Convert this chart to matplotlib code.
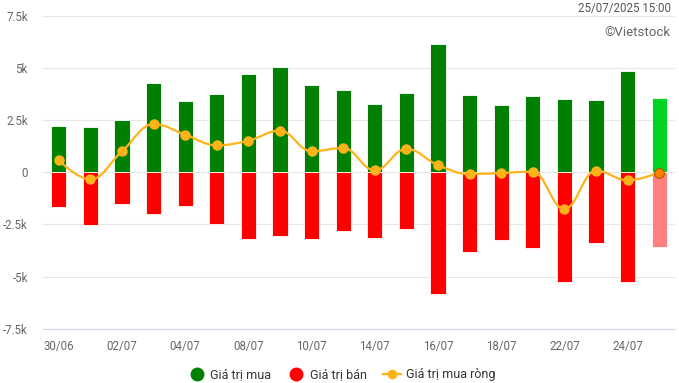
import matplotlib
matplotlib.use("Agg")
import matplotlib.pyplot as plt
import numpy as np
from matplotlib.path import Path
from matplotlib.patches import PathPatch
from matplotlib.lines import Line2D
from matplotlib.ticker import FuncFormatter

plt.rcParams['font.family'] = ['Roboto', 'DejaVu Sans']

# ngay giao dich
dates = ["30/06", "01/07", "02/07", "03/07", "04/07", "07/07", "08/07", "09/07",
         "10/07", "11/07", "14/07", "15/07", "16/07", "17/07", "18/07", "21/07",
         "22/07", "23/07", "24/07", "25/07"]
# gia tri (ty dong)
buy = [2230, 2180, 2510, 4290, 3430, 3760, 4720, 5060, 4190, 3970,
       3280, 3810, 6170, 3720, 3240, 3670, 3520, 3480, 4870, 3570]
sell = [-1650, -2520, -1510, -1990, -1610, -2470, -3190, -3050, -3190, -2810,
        -3140, -2730, -5840, -3820, -3240, -3620, -5260, -3380, -5260, -3580]
net = [580, -340, 1010, 2310, 1810, 1300, 1520, 2000, 1010, 1170,
       100, 1120, 350, -80, -30, 30, -1760, 80, -380, -10]

GREEN = "#008000"
RED = "#ff0000"
ORANGE = "#ffb31a"


def spline_path(xs, ys, smoothing=1.5):
    # duong cong kieu highcharts spline
    n = len(xs)
    verts = [(xs[0], ys[0])]
    codes = [Path.MOVETO]
    rc = [(xs[i], ys[i]) for i in range(n)]
    lc = [(xs[i], ys[i]) for i in range(n)]
    denom = smoothing + 1
    for i in range(1, n - 1):
        px, py = xs[i], ys[i]
        lx, ly = xs[i - 1], ys[i - 1]
        nx, ny = xs[i + 1], ys[i + 1]
        lcx = (smoothing * px + lx) / denom
        lcy = (smoothing * py + ly) / denom
        rcx = (smoothing * px + nx) / denom
        rcy = (smoothing * py + ny) / denom
        corr = 0
        if rcx != lcx:
            corr = (rcy - lcy) * (rcx - px) / (rcx - lcx) + py - rcy
        lcy += corr
        rcy += corr
        if lcy > ly and lcy > py:
            lcy = max(ly, py); rcy = 2 * py - lcy
        elif lcy < ly and lcy < py:
            lcy = min(ly, py); rcy = 2 * py - lcy
        if rcy > ny and rcy > py:
            rcy = max(ny, py); lcy = 2 * py - rcy
        elif rcy < ny and rcy < py:
            rcy = min(ny, py); lcy = 2 * py - rcy
        lc[i] = (lcx, lcy)
        rc[i] = (rcx, rcy)
    for i in range(1, n):
        verts += [rc[i - 1], lc[i], (xs[i], ys[i])]
        codes += [Path.CURVE4] * 3
    return Path(verts, codes)


fig = plt.figure(figsize=(6.79, 3.83), dpi=100)
ax = fig.add_axes([0.0633, 0.1418, 0.9307, 0.8164])

x = np.arange(len(dates))
green_cols = [GREEN] * (len(x) - 1) + ["#00d423"]
red_cols = [RED] * (len(x) - 1) + ["#ff8080"]
ax.bar(x, buy, width=0.48, color=green_cols, edgecolor="white", linewidth=0.6, zorder=2)
ax.bar(x, sell, width=0.48, color=red_cols, edgecolor="white", linewidth=0.6, zorder=2)

ax.add_patch(PathPatch(spline_path(list(x), net), facecolor="none",
                       edgecolor=ORANGE, linewidth=1.6, zorder=3))
ax.plot(x[:-1], net[:-1], "o", color=ORANGE, markersize=6.5, zorder=4)
ax.plot(x[-1:], net[-1:], "o", color="#ff7f00", markeredgecolor="#a65c00",
        markeredgewidth=0.8, markersize=7, zorder=4)

ax.set_xlim(-0.5, len(x) - 0.5)
ax.set_ylim(-7500, 7500)
ax.set_yticks(np.arange(-7500, 7501, 2500))
ax.yaxis.set_major_formatter(FuncFormatter(lambda v, p: "0" if v == 0 else f"{v/1000:g}k"))
ax.set_xticks(x[::2])
ax.set_xticklabels(dates[::2])
ax.grid(axis="y", color="#e6e6e6", linewidth=0.8, zorder=0)
for s in ["top", "right", "left"]:
    ax.spines[s].set_visible(False)
ax.spines["bottom"].set_color("#ccd6eb")
ax.spines["bottom"].set_linewidth(0.8)
ax.tick_params(axis="both", length=0, labelsize=8.3, labelcolor="#666666")
ax.tick_params(axis="x", pad=8)
ax.tick_params(axis="y", pad=11)

fig.text(0.988, 0.977, "25/07/2025 15:00", ha="right", va="center",
         fontsize=8.3, color="#555555")
fig.text(0.988, 0.915, "©Vietstock", ha="right", va="center",
         fontsize=9.5, color="#666666")

handles = [
    Line2D([], [], marker="o", linestyle="none", color=GREEN, markersize=9),
    Line2D([], [], marker="o", linestyle="none", color=RED, markersize=9),
    Line2D([], [], marker="o", color=ORANGE, markersize=6, linewidth=1.6),
]
fig.legend(handles, ["Giá trị mua", "Giá trị bán", "Giá trị mua ròng"],
           loc="center", bbox_to_anchor=(0.503, 0.022), ncol=3, frameon=False,
           fontsize=9, handlelength=1.4, handletextpad=0.4, columnspacing=1.3,
           labelcolor="#333333")

fig.savefig("out.png", dpi=100)
